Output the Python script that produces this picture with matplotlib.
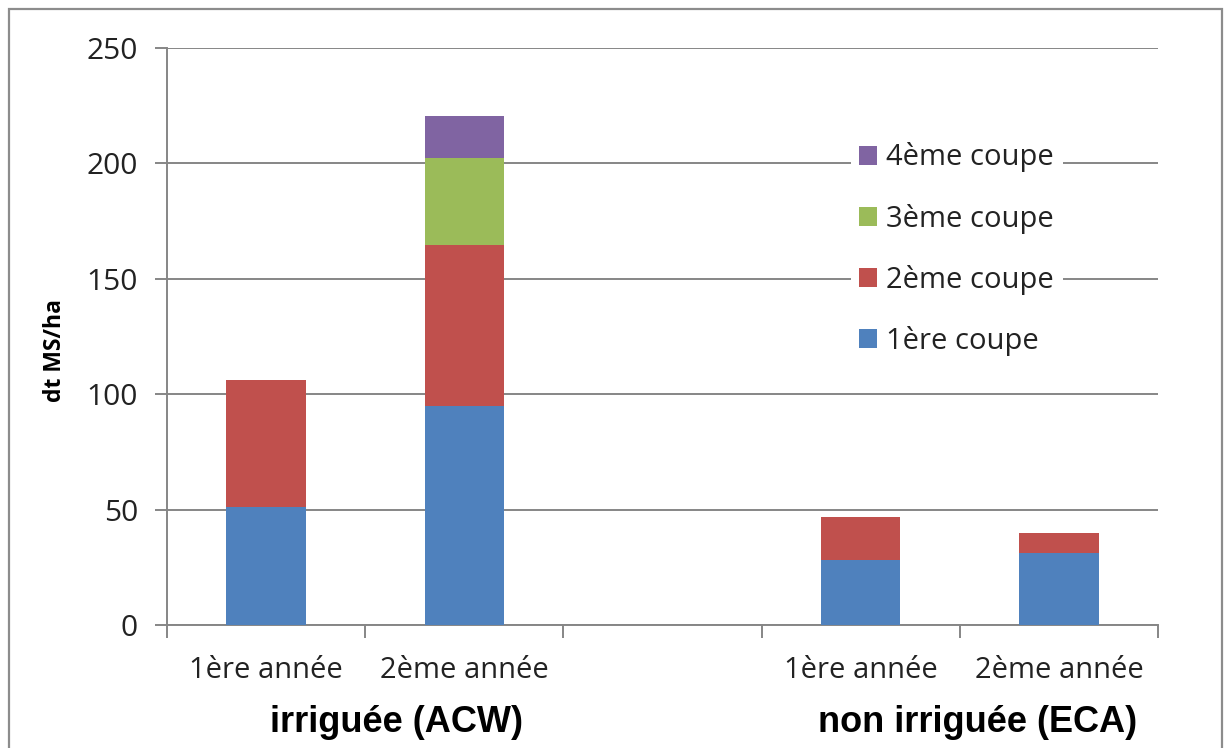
import matplotlib.pyplot as plt
import matplotlib.patches as mpatches
import numpy as np

# data (dt MS/ha)
categories = ["1ère année", "2ème année", "", "1ère année", "2ème année"]
coupe1 = [51, 95, 0, 28, 31]
coupe2 = [55, 69.5, 0, 19, 9]
coupe3 = [0, 38, 0, 0, 0]
coupe4 = [0, 18, 0, 0, 0]
series_names = ["1ère coupe", "2ème coupe", "3ème coupe", "4ème coupe"]
groups = ["irriguée (ACW)", "non irriguée (ECA)"]

colors = ["#4F81BD", "#C0504D", "#9BBB59", "#8064A2"]
grid_col = "#868686"
txt_col = "#222222"
font = ["Open Sans", "DejaVu Sans"]

plt.rcParams['font.family'] = font

fig = plt.figure(figsize=(12.3, 7.48), dpi=100)
ax = fig.add_axes([167/1230, 1 - 625/748, (1158-167)/1230, (625-48)/748])

x = np.arange(len(categories))
bottom = np.zeros(len(categories))
handles = []
for vals, name, c in zip([coupe1, coupe2, coupe3, coupe4], series_names, colors):
    vals = np.array(vals, dtype=float)
    b = ax.bar(x, vals, width=0.4, bottom=bottom, color=c, label=name, zorder=3)
    handles.append(b)
    bottom += vals

ax.set_xlim(-0.5, len(categories) - 0.5)
ax.set_ylim(0, 250)
ax.set_yticks(np.arange(0, 251, 50))
ax.yaxis.grid(True, color=grid_col, linewidth=1.4, zorder=0)
ax.set_axisbelow(True)

# category boundaries as ticks, labels centred between them
ax.set_xticks(np.arange(-0.5, len(categories), 1), minor=False)
ax.set_xticklabels([])
ax.set_xticks(x, minor=True)
ax.set_xticklabels(categories, minor=True, fontsize=21, color=txt_col)
ax.tick_params(axis='x', which='minor', length=0, pad=22)
ax.tick_params(axis='x', which='major', length=9, width=1.4, color=grid_col)
ax.tick_params(axis='y', length=9, width=1.4, color=grid_col, labelsize=21.5,
               labelcolor=txt_col, pad=12)

for s in ["top", "right"]:
    ax.spines[s].set_visible(False)
for s in ["left", "bottom"]:
    ax.spines[s].set_color(grid_col)
    ax.spines[s].set_linewidth(1.4)

fig.text(55/1230, 1 - 350/748, "dt MS/ha", fontsize=16.5, fontweight='bold',
         rotation=90, ha='center', va='center', color="black")

leg = ax.legend(handles[::-1], series_names[::-1], loc='upper left',
                bbox_to_anchor=(836/1230, 1 - 119/748), bbox_transform=fig.transFigure,
                frameon=True, fancybox=False, edgecolor='none', facecolor='white',
                framealpha=1, fontsize=21, handlelength=0.62, handleheight=0.62,
                handletextpad=0.3, labelspacing=1.07, borderpad=0.3)
for t in leg.get_texts():
    t.set_color(txt_col)

# group labels
for label, xc in zip(groups, [397, 978]):
    fig.text(xc/1230, 1 - 723/748, label, fontsize=26, fontweight='bold',
             family=["Liberation Sans", "DejaVu Sans"], ha='center', va='center')

# outer chart border
fig.patches.append(mpatches.Rectangle((9/1230, -0.05), (1222-9)/1230, 1.05 - 9/748,
                                      transform=fig.transFigure, fill=False,
                                      edgecolor="#8c8c8c", linewidth=1.6))

fig.savefig("out.png", dpi=100)
